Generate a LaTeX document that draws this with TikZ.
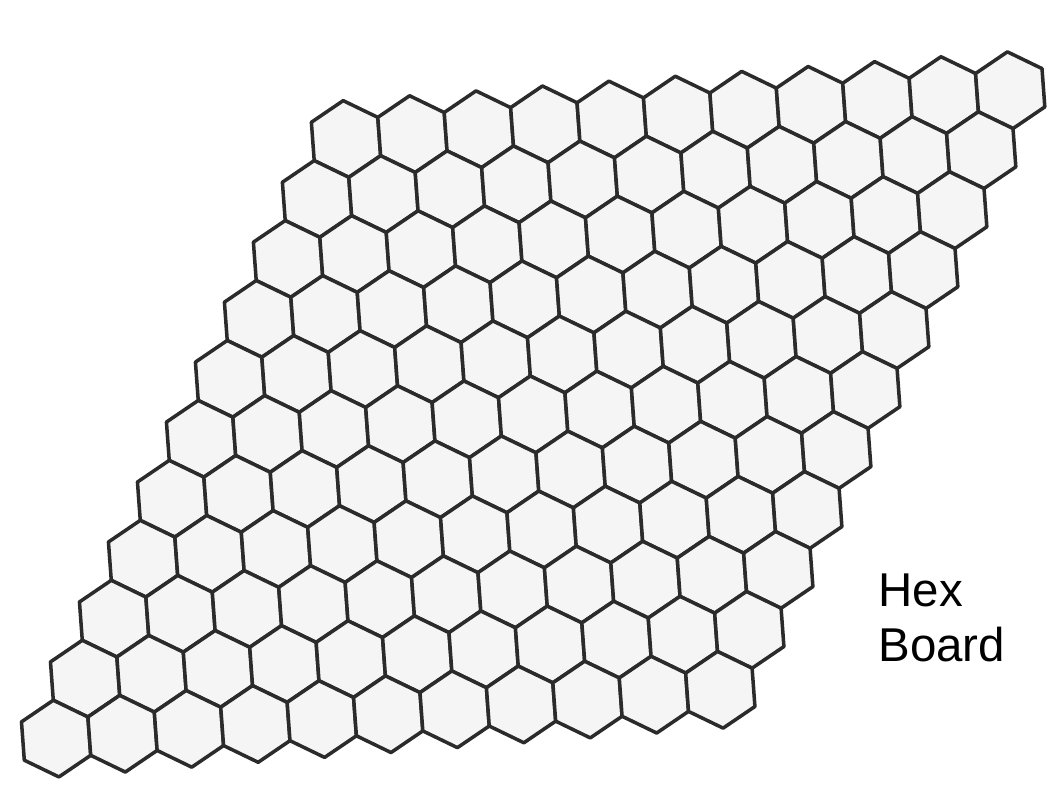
\documentclass[tikz,border=0pt]{standalone}
\usepackage{fontspec}
\setmainfont{Liberation Sans}
\definecolor{inkgray}{HTML}{2B2B2B}
\definecolor{cellgray}{HTML}{F5F5F5}

\begin{document}
\begin{tikzpicture}[
  cell/.style={
    draw=inkgray, fill=cellgray, line width=2pt, line join=round
  },
  boardtext/.style={
    anchor=base west, inner sep=0pt, font=\fontsize{27}{31}\selectfont
  }
  ]
  \useasboundingbox (0,0) rectangle (21.16,16);
  \def\rad{0.769}
  % 11 x 11 cells, rows shifted left as they go down
  \foreach \r in {0,...,10}{
    \foreach \c in {0,...,10}{
      \coordinate (hex-\c-\r) at ({6.92+1.3284*\c-0.5798*\r},{13.22+0.0976*\c-1.1992*\r});
      \draw[cell] (hex-\c-\r) +(34.2:\rad) -- +(94.2:\rad) -- +(154.2:\rad)
        -- +(214.2:\rad) -- +(274.2:\rad) -- +(334.2:\rad) -- cycle;
    }
  }
  \node[boardtext] (hexword) at (17.56,3.86) {Hex};
  \node[boardtext] (boardword) at (17.56,2.76) {Board};
\end{tikzpicture}
\end{document}
